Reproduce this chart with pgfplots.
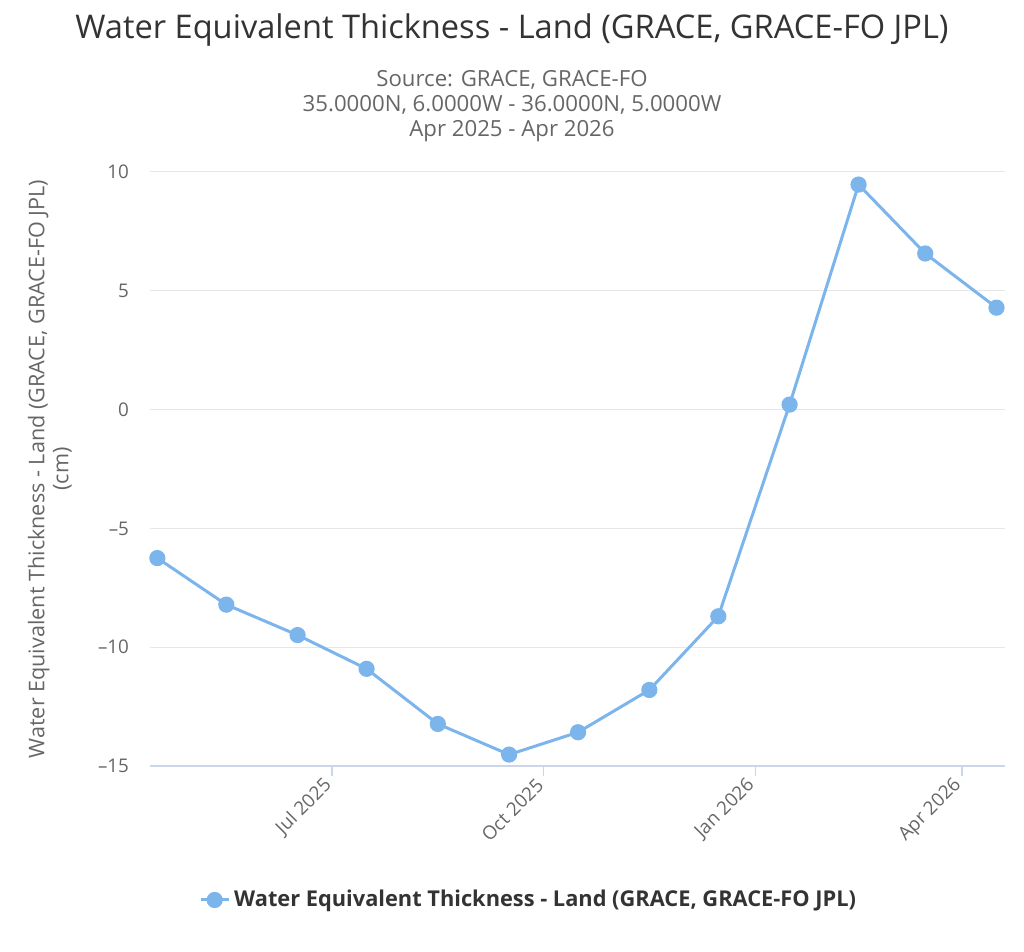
\documentclass[border=0pt]{standalone}
\usepackage{pgfplots}
\pgfplotsset{compat=1.18}
\usepackage{fontspec}
\setmainfont{Open Sans}
\definecolor{hcblue}{HTML}{7CB5EC}
\definecolor{titlec}{HTML}{333333}
\definecolor{subc}{HTML}{666666}
\definecolor{gridc}{HTML}{E6E6E6}
\definecolor{axisc}{HTML}{CCD6EB}
\begin{document}
\begin{tikzpicture}
\useasboundingbox (0,0) rectangle (512pt,476pt);
\node[text=titlec, font=\fontsize{16.3}{18}\selectfont] at (256pt,461pt) {Water Equivalent Thickness - Land (GRACE, GRACE-FO JPL)};
\node[text=subc, font=\fontsize{11.1}{12.5}\selectfont, align=center] at (256pt,423pt) {Source: GRACE, GRACE-FO\\35.0000N, 6.0000W - 36.0000N, 5.0000W\\Apr 2025 - Apr 2026};
\begin{axis}[
  at={(75pt,93pt)}, anchor=south west,
  scale only axis, width=427.5pt, height=297pt,
  xmin=-79.2, xmax=292.7, ymin=-15, ymax=10,
  axis x line=bottom, axis y line=left,
  x axis line style={-, draw=axisc, line width=0.6pt},
  y axis line style={draw=none},
  xtick={0,92,184,274},
  xticklabels={Jul 2025, Oct 2025, Jan 2026, Apr 2026},
  xtick style={draw=axisc, line width=0.6pt},
  major tick length=5pt,
  tick align=outside,
  ytick={-15,-10,-5,0,5,10},
  yticklabels={--15,--10,--5,0,5,10},
  ytick style={draw=none},
  ymajorgrids, grid style={draw=gridc, line width=0.5pt},
  ticklabel style={text=subc, font=\fontsize{9.4}{11}\selectfont},
  xticklabel style={rotate=45, anchor=east, yshift=-1pt},
  yticklabel style={xshift=-2pt},
  ylabel={Water Equivalent Thickness - Land (GRACE, GRACE-FO JPL)\\(cm)},
  ylabel style={at={(axis description cs:-0.117,0.5)}, anchor=center, align=center, text=subc, font=\fontsize{10.8}{12}\selectfont},
  legend style={at={(0.444,-0.2256)}, anchor=center, draw=none, fill=none,
    font=\fontsize{10.9}{13}\selectfont\bfseries, text=titlec},
  legend image code/.code={\draw[mark repeat=2, mark phase=2] plot coordinates {(0pt,0pt) (7pt,0pt) (14pt,0pt)};},
  clip=false,
]
\addplot[color=hcblue, line width=1.5pt, mark=*, mark size=3.3pt, mark options={fill=hcblue, draw=none}]
coordinates {
(-76,-6.25)
(-46,-8.21)
(-15,-9.49)
(15,-10.91)
(46,-13.23)
(77,-14.52)
(107,-13.58)
(138,-11.80)
(168,-8.70)
(199,0.21)
(229,9.47)
(258,6.57)
(289,4.29)
};
\addlegendentry{Water Equivalent Thickness - Land (GRACE, GRACE-FO JPL)}
\end{axis}
\end{tikzpicture}
\end{document}
